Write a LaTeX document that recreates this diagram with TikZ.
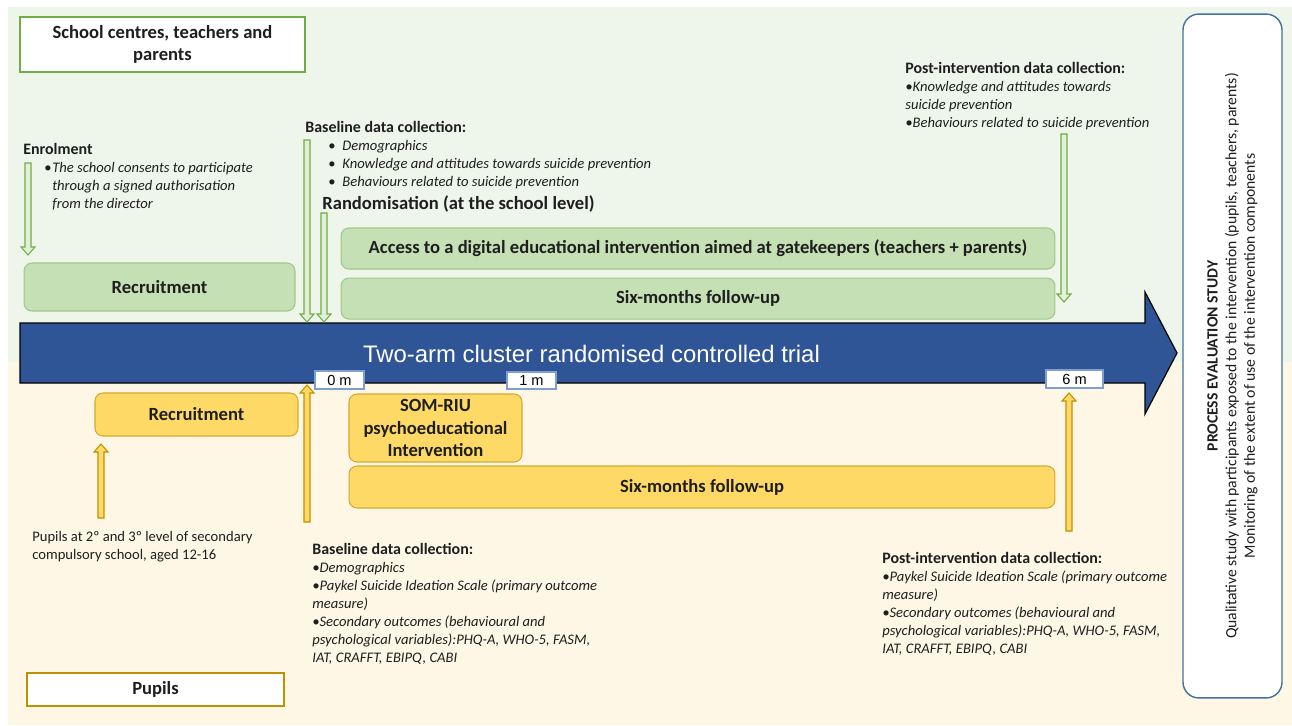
\documentclass[tikz,border=0pt]{standalone}
\usepackage{fontspec}
\setmainfont{Carlito}
\newfontfamily\arialfont{Liberation Sans}
\usetikzlibrary{positioning,calc}
\definecolor{bggreen}{RGB}{238,245,234}
\definecolor{bgyellow}{RGB}{255,247,230}
\definecolor{boxgreen}{RGB}{197,224,180}
\definecolor{edgegreen}{RGB}{160,200,135}
\definecolor{arrgreen}{RGB}{112,173,71}
\definecolor{palegreen}{RGB}{226,240,217}
\definecolor{boxyellow}{RGB}{255,217,102}
\definecolor{edgeyellow}{RGB}{210,170,50}
\definecolor{arryellow}{RGB}{191,144,0}
\definecolor{trialblue}{RGB}{47,85,151}
\definecolor{tickblue}{RGB}{127,159,208}
\definecolor{evalblue}{RGB}{65,113,156}
\definecolor{inkgray}{RGB}{30,30,30}
\tikzset{
  gbox/.style  ={rectangle, rounded corners=4.5pt, draw=edgegreen, fill=boxgreen, line width=0.6pt,
                 align=center, font=\fontsize{10.58}{12.9}\selectfont\bfseries, text=inkgray, inner sep=1pt},
  ybox/.style  ={gbox, draw=edgeyellow, fill=boxyellow},
  headbox/.style={rectangle, fill=white, line width=0.9pt, align=center, text=inkgray,
                 font=\fontsize{10.58}{13}\selectfont\bfseries},
  % multi-line notes are anchored on the baseline of their last line
  note/.style  ={anchor=base west, align=left, inner sep=0pt, text=inkgray,
                 font=\fontsize{8.31}{10.2}\selectfont},
  tick/.style  ={rectangle, draw=tickblue, fill=white, line width=0.6pt, inner sep=0pt,
                 font=\arialfont\fontsize{8.3}{10}\selectfont},
  garrow/.style={draw=arrgreen, fill=palegreen, line width=0.6pt},
  yarrow/.style={draw=arryellow, fill=boxyellow, line width=0.6pt},
}
% hollow block arrow: style, tail, tip, direction (1 down, -1 up)
\newcommand{\blockarrow}[4]{%
  \draw[#1] ($(#2)+(-3,0)$) -- ($(#3)+(-3,{-8*#4})$) -- ($(#3)+(-7,{-8*#4})$) -- (#3)
    -- ($(#3)+(7,{-8*#4})$) -- ($(#3)+(3,{-8*#4})$) -- ($(#2)+(3,0)$) -- cycle;}
\newcommand{\bul}{\makebox[0.16cm][l]{\textup{•}}}
\newcommand{\hdr}[1]{{\fontsize{9.07}{10.2}\selectfont\bfseries #1}}

\begin{document}
\begin{tikzpicture}[x=0.02cm, y=-0.02cm]
\useasboundingbox (0,0) rectangle (1292,725);
% the two arms
\fill[bggreen] (8,7) rectangle (1292,362);
\fill[bgyellow] (8,362) rectangle (1292,725);

\node[headbox, draw=arrgreen, minimum width=5.7cm, minimum height=1.1cm] (schools) at (162.5,44.5) {School centres, teachers and\\parents};
\node[headbox, draw=arryellow, minimum width=5.14cm, minimum height=0.66cm] (pupils) at (155.5,689.5) {Pupils};

% teachers and parents arm
\node[gbox, minimum width=5.42cm, minimum height=0.96cm] (recruitG) at (159.5,287) {Recruitment};
\node[gbox, minimum width=14.28cm, minimum height=0.82cm] (access) at (698,248.5) {Access to a digital educational intervention aimed at gatekeepers (teachers + parents)};
\node[gbox, minimum width=14.28cm, minimum height=0.82cm, below=0.16cm of access] (followG) {Six-months follow-up};

\node[note] (enrol) at (23,208) {\hdr{Enrolment}\\
  \hspace*{0.42cm}\bul\textit{The school consents to participate}\\
  \hspace*{0.58cm}\textit{through a signed authorisation}\\
  \hspace*{0.58cm}\textit{from the director}};
\node[note] (baseTop) at (305,186) {\hdr{Baseline data collection:}\\
  \hspace*{0.46cm}\makebox[0.28cm][l]{•}\textit{Demographics}\\
  \hspace*{0.46cm}\makebox[0.28cm][l]{•}\textit{Knowledge and attitudes towards suicide prevention}\\
  \hspace*{0.46cm}\makebox[0.28cm][l]{•}\textit{Behaviours related to suicide prevention}};
\node[note, font=\fontsize{10.58}{12.9}\selectfont\bfseries] (random) at (322,209) {Randomisation (at the school level)};
\node[note] (postTop) at (905,127) {\hdr{Post-intervention data collection:}\\
  \textit{•Knowledge and attitudes towards}\\
  \textit{suicide prevention}\\
  \textit{•Behaviours related to suicide prevention}};

% pupils arm
\node[ybox, minimum width=4.06cm, minimum height=0.86cm] (recruitY) at (196.5,414.5) {Recruitment};
\node[ybox, minimum width=3.46cm, minimum height=1.36cm] (somriu) at (435.5,428) {SOM-RIU\\psychoeducational\\Intervention};
\node[ybox, minimum width=14.12cm, minimum height=0.84cm] (followY) at (702,487) {Six-months follow-up};

\node[note] (target) at (32,559) {Pupils at 2º and 3º level of secondary\\compulsory school, aged 12-16};
\node[note] (baseBot) at (312,662) {\hdr{Baseline data collection:}\\
  \textit{•Demographics}\\
  \textit{•Paykel Suicide Ideation Scale (primary outcome}\\
  \textit{measure)}\\
  \textit{•Secondary outcomes (behavioural and}\\
  \textit{psychological variables):PHQ-A, WHO-5, FASM,}\\
  \textit{IAT, CRAFFT, EBIPQ, CABI}};
\node[note] (postBot) at (882,653) {\hdr{Post-intervention data collection:}\\
  \textit{•Paykel Suicide Ideation Scale (primary outcome}\\
  \textit{measure)}\\
  \textit{•Secondary outcomes (behavioural and}\\
  \textit{psychological variables):PHQ-A, WHO-5, FASM,}\\
  \textit{IAT, CRAFFT, EBIPQ, CABI}};

% timeline
\draw[fill=trialblue, draw=black, line width=0.7pt] (20,323) -- (1145,323) -- (1145,292) -- (1177,353)
  -- (1145,414) -- (1145,383) -- (20,383) -- cycle;
\node[inner sep=0pt, text=white, font=\arialfont\fontsize{13.6}{16}\selectfont] (trial) at (591.5,353.5) {Two-arm cluster randomised controlled trial};
\node[tick, minimum width=0.98cm, minimum height=0.36cm] (m0) at (339.5,380) {0 m};
\node[tick, minimum width=0.98cm, minimum height=0.34cm] (m1) at (531.5,380.5) {1 m};
\node[tick, minimum width=1.14cm, minimum height=0.36cm] (m6) at (1074.5,379) {6 m};

% process evaluation
\node[rectangle, rounded corners=9pt, draw=evalblue, fill=white, line width=0.8pt,
      minimum width=1.98cm, minimum height=13.68cm] (process) at (1232.5,356) {};
\node[rotate=90, align=center, text=inkgray, font=\fontsize{8.9}{10.6}\selectfont] (processTxt) at (process.center)
  {\textbf{PROCESS EVALUATION STUDY}\\
   Qualitative study with participants exposed to the intervention (pupils, teachers, parents)\\
   Monitoring of the extent of use of the intervention components};

% block arrows
\foreach \an/\ax/\ya/\yb in {enrolA/28/163/255, baseA/307/140/322, randA/324/213/322, postA/1064/134/302} {
  \coordinate (\an T) at (\ax,\ya);
  \coordinate (\an H) at (\ax,\yb);
  \blockarrow{garrow}{\an T}{\an H}{1}
}
\foreach \an/\ax/\ya/\yb in {pupilA/101/518/444, zeroA/307/522/385, sixA/1069/531/393} {
  \coordinate (\an T) at (\ax,\ya);
  \coordinate (\an H) at (\ax,\yb);
  \blockarrow{yarrow}{\an T}{\an H}{-1}
}
\end{tikzpicture}
\end{document}
